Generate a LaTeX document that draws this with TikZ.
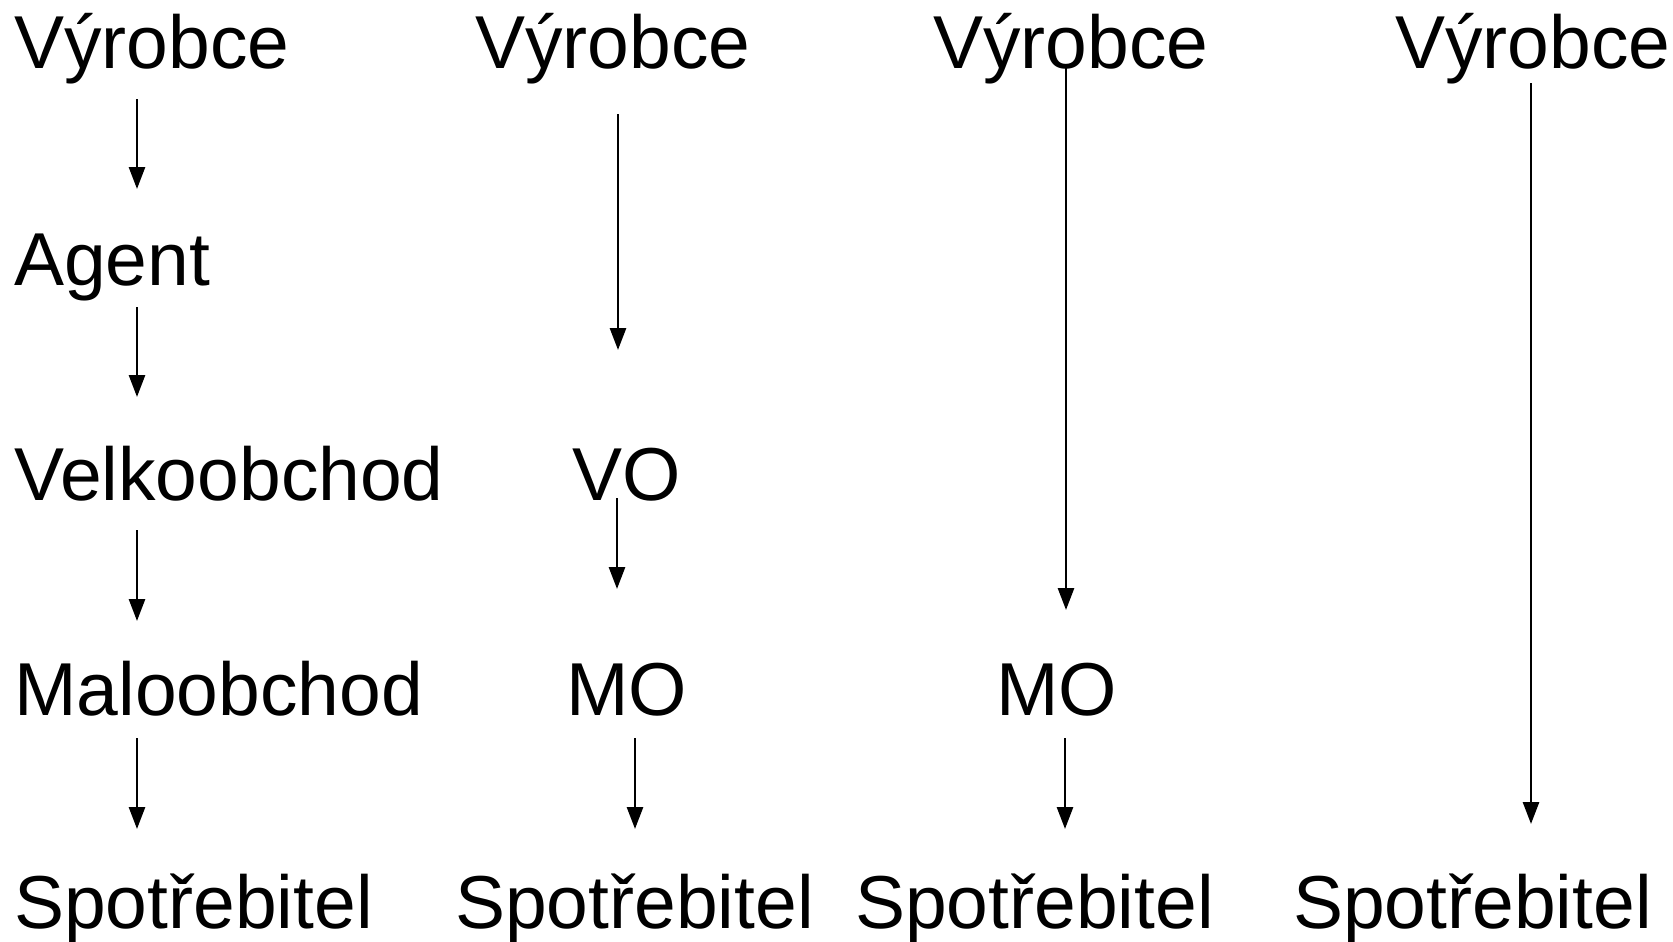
\documentclass[tikz,border=0pt]{standalone}
\usepackage{fontspec}
\setmainfont{Liberation Sans}
\usetikzlibrary{arrows.meta}
\begin{document}
\begin{tikzpicture}[x=1pt,y=-1pt,
  lbl/.style={anchor=base west,inner sep=0pt,font=\fontsize{75}{80}\selectfont},
  arr/.style={line width=2.8pt,-{Triangle[length=22pt,width=16pt]}}]
\useasboundingbox (0,0) rectangle (1673,942);
% column 1
\node[lbl] (v1) at (14,68) {Výrobce};
\node[lbl] (ag) at (14,285) {Agent};
\node[lbl] (vo1) at (14,500) {Velkoobchod};
\node[lbl] (mo1) at (14,715) {Maloobchod};
\node[lbl] (s1) at (14,928) {Spotřebitel};
% column 2
\node[lbl] (v2) at (475,68) {Výrobce};
\node[lbl] (vo2) at (572,500) {VO};
\node[lbl] (mo2) at (566,715) {MO};
\node[lbl] (s2) at (455,928) {Spotřebitel};
% column 3
\node[lbl] (v3) at (933,68) {Výrobce};
\node[lbl] (mo3) at (996,715) {MO};
\node[lbl] (s3) at (855,928) {Spotřebitel};
% column 4
\node[lbl] (v4) at (1395,68) {Výrobce};
\node[lbl] (s4) at (1293,928) {Spotřebitel};
% arrow ends
\coordinate (a1s) at (137,99);  \coordinate (a1e) at (137,189);
\coordinate (a2s) at (137,307); \coordinate (a2e) at (137,397);
\coordinate (a3s) at (137,530); \coordinate (a3e) at (137,621);
\coordinate (a4s) at (137,738); \coordinate (a4e) at (137,829);
\coordinate (b1s) at (618,114); \coordinate (b1e) at (618,350);
\coordinate (b2s) at (617,498); \coordinate (b2e) at (617,589);
\coordinate (b3s) at (635,738); \coordinate (b3e) at (635,829);
\coordinate (c1s) at (1066,66); \coordinate (c1e) at (1066,610);
\coordinate (c2s) at (1065,738); \coordinate (c2e) at (1065,829);
\coordinate (d1s) at (1531,83); \coordinate (d1e) at (1531,824);
\draw[arr] (a1s) -- (a1e);
\draw[arr] (a2s) -- (a2e);
\draw[arr] (a3s) -- (a3e);
\draw[arr] (a4s) -- (a4e);
\draw[arr] (b1s) -- (b1e);
\draw[arr] (b2s) -- (b2e);
\draw[arr] (b3s) -- (b3e);
\draw[arr] (c1s) -- (c1e);
\draw[arr] (c2s) -- (c2e);
\draw[arr] (d1s) -- (d1e);
\end{tikzpicture}
\end{document}
